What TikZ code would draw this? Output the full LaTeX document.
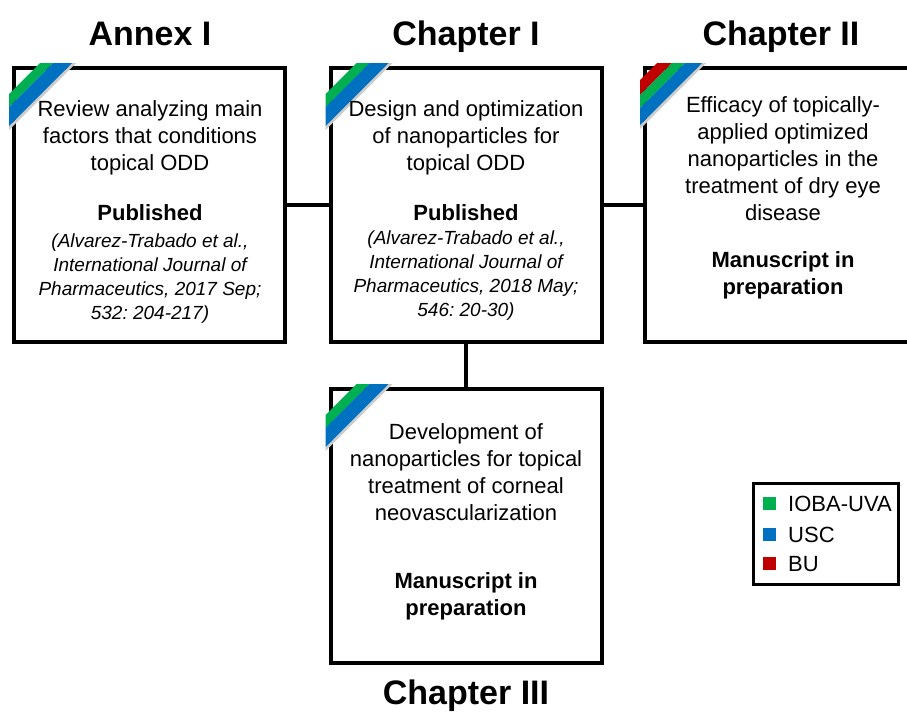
\documentclass[tikz,border=0pt]{standalone}
\usepackage{fontspec}
\setmainfont{Liberation Sans}
\usetikzlibrary{positioning}
\frenchspacing

\definecolor{iobagreen}{HTML}{00B050}
\definecolor{uscblue}{HTML}{0070C0}
\definecolor{bured}{HTML}{C00000}

%% one diagonal band across the top left corner of a box
\newcommand{\cornerband}[4]{%
  \fill[#4] ([shift={(#2+3,-3)}]#1.north west) -- ([shift={(#3+3,-3)}]#1.north west)
    -- ([shift={(-3,#3+3)}]#1.north west) -- ([shift={(-3,#2+3)}]#1.north west) -- cycle;}

\begin{document}
\begin{tikzpicture}[x=1pt,y=-1pt,
    box/.style={draw,line width=4pt,minimum width=271pt,minimum height=274pt,inner sep=0pt},
    title/.style={font=\fontsize{34}{40}\selectfont\bfseries,anchor=base},
    body/.style={font=\fontsize{22}{27}\selectfont,align=center,anchor=north,inner sep=0pt},
    status/.style={font=\fontsize{22}{27}\selectfont\bfseries,align=center,anchor=north,inner sep=0pt},
    cite/.style={font=\fontsize{19}{24}\selectfont\itshape,align=center,anchor=north,inner sep=0pt}]
    \useasboundingbox (0,0) rectangle (907,713);
    \clip (0,0) rectangle (907,713);
    \fill[white] (0,0) rectangle (907,713);

    %% boxes
    \node[box] (boxA) at (149.5,205) {};
    \node[box] (boxB) at (466,205) {};
    \node[box] (boxC) at (780.5,205) {};
    \node[box] (boxD) at (466,526) {};

    %% links
    \draw[line width=4pt] (boxA) -- (boxB);
    \draw[line width=4pt] (boxB) -- (boxC);
    \draw[line width=4pt] (boxB) -- (boxD);

    %% corner bands
    \foreach \b in {boxA,boxB,boxD} {
      \cornerband{\b}{57}{61}{black!20}
      \cornerband{\b}{25}{38}{iobagreen}
      \cornerband{\b}{38}{57}{uscblue}
    }
    \cornerband{boxC}{56}{60}{black!20}
    \cornerband{boxC}{11}{26}{bured}
    \cornerband{boxC}{26}{39}{iobagreen}
    \cornerband{boxC}{39}{56}{uscblue}

    %% titles
    \node[title] (tA) at (150,45) {Annex I};
    \node[title] (tB) at (466,45) {Chapter I};
    \node[title] (tC) at (781,45) {Chapter II};
    \node[title] (tD) at (466,704) {Chapter III};

    %% annex I
    \node[body] (mA) at (150,100) {Review analyzing main\\factors that conditions\\topical ODD};
    \node[status] (sA) at (150,204) {Published};
    \node[cite] (cA) at (150,234) {(Alvarez-Trabado et al.,\\International Journal of\\Pharmaceutics, 2017 Sep;\\532: 204-217)};

    %% chapter I
    \node[body] (mB) at (466,100) {Design and optimization\\of nanoparticles for\\topical ODD};
    \node[status] (sB) at (466,204) {Published};
    \node[cite] (cB) at (466,231) {(Alvarez-Trabado et al.,\\International Journal of\\Pharmaceutics, 2018 May;\\546: 20-30)};

    %% chapter II
    \node[body] (mC) at (783,96) {Efficacy of topically-\\applied optimized\\nanoparticles in the\\treatment of dry eye\\disease};
    \node[status] (sC) at (783,251) {Manuscript in\\preparation};

    %% chapter III
    \node[body] (mD) at (466,423) {Development of\\nanoparticles for topical\\treatment of corneal\\neovascularization};
    \node[status] (sD) at (466,572) {Manuscript in\\preparation};

    %% legend
    \node[draw,line width=3.5pt,minimum width=145pt,minimum height=101pt,inner sep=0pt] (legend) at (826,534) {};
    \foreach \c/\t/\y/\n in {iobagreen/IOBA-UVA/503/ioba,uscblue/USC/534/usc,bured/BU/563/bu} {
      \node[fill=\c,minimum size=13pt,inner sep=0pt] (sq\n) at (769.5,\y) {};
      \node[anchor=base west,inner sep=0pt,font=\fontsize{22}{27}\selectfont] (lb\n) at (788,\y+8) {\t};
    }
\end{tikzpicture}
\end{document}
